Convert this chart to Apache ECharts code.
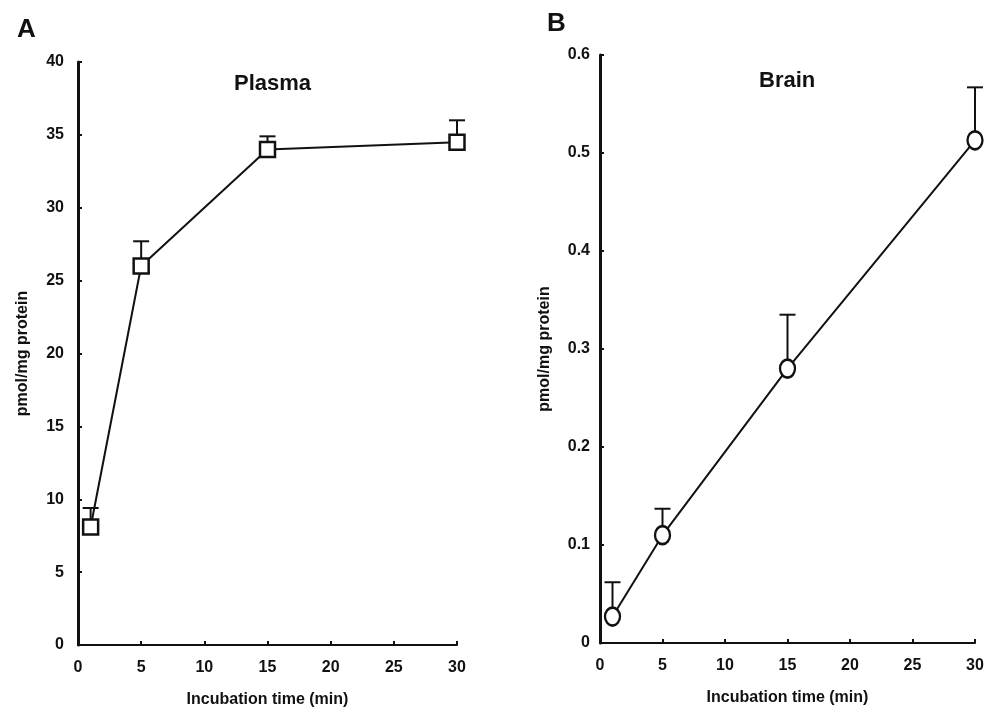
<!DOCTYPE html>
<html>
<head>
<meta charset="utf-8">
<script src="https://cdn.jsdelivr.net/npm/echarts@6/dist/echarts.min.js"></script>
<style>
  html, body { margin: 0; padding: 0; background: #fff; }
  #chart { width: 988px; height: 708px; }
</style>
</head>
<body>
<div id="chart"></div>
<script>
// Incubation times (min)
const times = [1, 5, 15, 30];
const xTicks = [0, 5, 10, 15, 20, 25, 30];

// Panel A: plasma uptake (pmol/mg protein), mean and upper SD
const plasmaMean = [8.1, 26.0, 34.0, 34.5];
const plasmaSD = [1.3, 1.7, 0.9, 1.5];

// Panel B: brain uptake (pmol/mg protein), mean and upper SD
const brainMean = [0.027, 0.110, 0.280, 0.513];
const brainSD = [0.035, 0.027, 0.055, 0.054];

const ink = '#111';
const font = 'Liberation Sans, Arial, sans-serif';

function pairs(xs, ys) { return xs.map((x, i) => [x, ys[i]]); }
function errRows(xs, ms, sds) { return xs.map((x, i) => [x, ms[i], ms[i] + sds[i]]); }

// Upper-only error bar: stem from the mean to mean+SD, with a cap
function errorBar(capHalf) {
  return function (params, api) {
    const x = api.value(0);
    const base = api.coord([x, api.value(1)]);
    const top = api.coord([x, api.value(2)]);
    const style = { stroke: ink, lineWidth: 2 };
    return {
      type: 'group',
      children: [
        { type: 'line', shape: { x1: base[0], y1: base[1], x2: top[0], y2: top[1] }, style },
        { type: 'line', shape: { x1: top[0] - capHalf, y1: top[1], x2: top[0] + capHalf, y2: top[1] }, style }
      ]
    };
  };
}

const labelStyle = { color: ink, fontFamily: font, fontSize: 16, fontWeight: 'bold' };
const nameStyle = { color: ink, fontFamily: font, fontSize: 16, fontWeight: 'bold' };

function xAxis(gridIndex) {
  return {
    type: 'value', gridIndex, min: 0, max: 30, interval: 5,
    name: 'Incubation time (min)', nameLocation: 'middle', nameGap: 47,
    nameTextStyle: nameStyle,
    axisLine: { lineStyle: { color: ink, width: 2 } },
    axisTick: { inside: true, length: 4, lineStyle: { color: ink, width: 2 } },
    axisLabel: Object.assign({ margin: 15, formatter: v => xTicks.includes(v) ? String(v) : '' }, labelStyle),
    splitLine: { show: false }
  };
}

function yAxis(gridIndex, max, interval, gap, margin, fmt) {
  return {
    type: 'value', gridIndex, min: 0, max, interval,
    name: 'pmol/mg protein', nameLocation: 'middle', nameGap: gap,
    nameTextStyle: nameStyle,
    axisLine: { lineStyle: { color: ink, width: 3 } },
    axisTick: { inside: true, length: 4, lineStyle: { color: ink, width: 2 } },
    axisLabel: Object.assign({ margin, formatter: fmt }, labelStyle),
    splitLine: { show: false }
  };
}

const option = {
  animation: false,
  backgroundColor: '#fff',
  title: [
    { text: 'A', left: 12, top: 12, textStyle: { fontFamily: font, fontSize: 26, fontWeight: 'bold', color: ink } },
    { text: 'B', left: 542, top: 6, textStyle: { fontFamily: font, fontSize: 26, fontWeight: 'bold', color: ink } },
    { text: 'Plasma', left: 229, top: 68, textStyle: { fontFamily: font, fontSize: 22, fontWeight: 'bold', color: ink } },
    { text: 'Brain', left: 754, top: 65, textStyle: { fontFamily: font, fontSize: 22, fontWeight: 'bold', color: ink } }
  ],
  grid: [
    { left: 78, right: 531, top: 62, bottom: 63, containLabel: false, outerBoundsMode: 'none' },
    { left: 600, right: 13, top: 55, bottom: 65, containLabel: false, outerBoundsMode: 'none' }
  ],
  xAxis: [xAxis(0), xAxis(1)],
  yAxis: [
    yAxis(0, 40, 5, 47, 14, v => String(v)),
    yAxis(1, 0.6, 0.1, 47, 10, v => v === 0 ? '0' : v.toFixed(1))
  ],
  series: [
    {
      type: 'custom', xAxisIndex: 0, yAxisIndex: 0, z: 1,
      renderItem: errorBar(8), data: errRows(times, plasmaMean, plasmaSD)
    },
    {
      type: 'line', xAxisIndex: 0, yAxisIndex: 0, z: 2,
      data: pairs(times, plasmaMean),
      symbol: 'rect', symbolSize: 15,
      lineStyle: { color: ink, width: 2 },
      itemStyle: { color: '#fff', borderColor: ink, borderWidth: 2.5 }
    },
    {
      type: 'custom', xAxisIndex: 1, yAxisIndex: 1, z: 1,
      renderItem: errorBar(8), data: errRows(times, brainMean, brainSD)
    },
    {
      type: 'line', xAxisIndex: 1, yAxisIndex: 1, z: 2,
      data: pairs(times, brainMean),
      symbol: 'circle', symbolSize: [15, 18],
      lineStyle: { color: ink, width: 2 },
      itemStyle: { color: '#fff', borderColor: ink, borderWidth: 2.5 }
    }
  ]
};

const chart = echarts.init(document.getElementById('chart'), null, { renderer: 'canvas' });
chart.setOption(option);
</script>
</body>
</html>
